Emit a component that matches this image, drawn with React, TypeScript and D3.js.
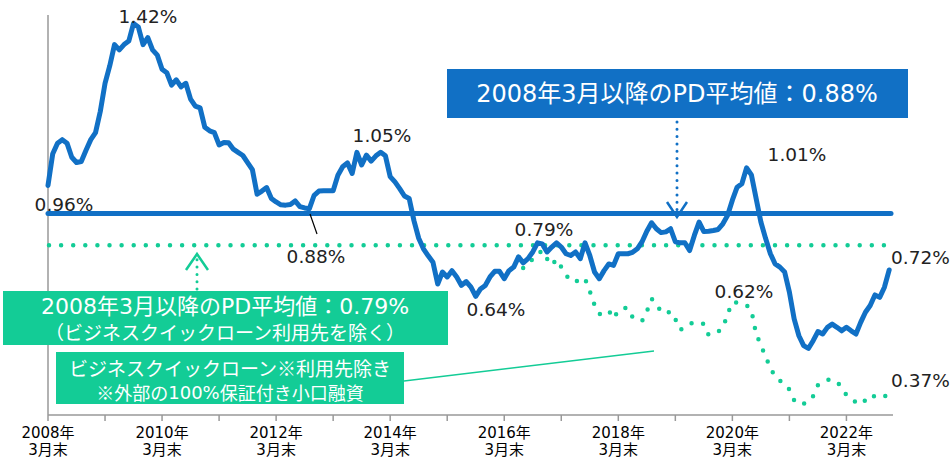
import * as d3 from "d3";

// monthly PD, index 0 = 2008年3月末
const pdAll = [
  0.96, 1.05, 1.08, 1.09, 1.08, 1.04, 1.025, 1.028, 1.06, 1.09,
  1.11, 1.17, 1.25, 1.3, 1.36, 1.345, 1.36, 1.37, 1.42, 1.41,
  1.36, 1.38, 1.345, 1.33, 1.29, 1.28, 1.245, 1.26, 1.24, 1.25,
  1.205, 1.185, 1.18, 1.125, 1.115, 1.11, 1.075, 1.082, 1.081, 1.063,
  1.054, 1.045, 1.025, 1.005, 0.935, 0.944, 0.954, 0.923, 0.913, 0.905,
  0.904, 0.906, 0.916, 0.9, 0.896, 0.894, 0.932, 0.944, 0.945, 0.945,
  0.945, 0.989, 1.013, 1.024, 0.994, 1.054, 1.018, 1.046, 1.029, 1.044,
  1.054, 1.044, 0.985, 0.97, 0.951, 0.93, 0.923, 0.86, 0.81, 0.78,
  0.76, 0.742, 0.68, 0.714, 0.7, 0.718, 0.7, 0.676, 0.687, 0.671,
  0.645, 0.666, 0.676, 0.7, 0.716, 0.716, 0.695, 0.718, 0.728, 0.757,
  0.74, 0.752, 0.771, 0.797, 0.794, 0.771, 0.785, 0.797, 0.785, 0.766,
  0.761, 0.771, 0.752, 0.797, 0.761, 0.714, 0.695, 0.718, 0.737, 0.733,
  0.766, 0.766, 0.766, 0.77, 0.78, 0.8, 0.83, 0.854, 0.837, 0.826,
  0.828, 0.837, 0.8, 0.797, 0.797, 0.775, 0.818, 0.856, 0.829, 0.83,
  0.832, 0.835, 0.851, 0.875, 0.918, 0.955, 0.965, 1.01, 0.99, 0.923,
  0.856, 0.809, 0.766, 0.737, 0.728, 0.714, 0.657, 0.581, 0.533, 0.505,
  0.497, 0.519, 0.545, 0.538, 0.557, 0.566, 0.557, 0.547, 0.557, 0.547,
  0.538, 0.571, 0.6, 0.619, 0.649, 0.642, 0.671, 0.72,
];

// ビジネスクイックローン利用先除き, from index 99 (before that it equals pdAll)
const exStart = 99;
const pdExBql = [
  0.757, 0.725, 0.74, 0.75, 0.765, 0.775, 0.752, 0.733, 0.75, 0.728,
  0.705, 0.69, 0.685, 0.697, 0.695, 0.66, 0.62, 0.595, 0.595, 0.604,
  0.582, 0.605, 0.612, 0.612, 0.586, 0.578, 0.575, 0.602, 0.638, 0.626,
  0.6, 0.597, 0.602, 0.58, 0.55, 0.556, 0.567, 0.571, 0.572, 0.566,
  0.535, 0.54, 0.545, 0.555, 0.595, 0.628, 0.627, 0.626, 0.62, 0.606,
  0.538, 0.507, 0.473, 0.443, 0.415, 0.405, 0.398, 0.38, 0.35, 0.338,
  0.34, 0.345, 0.362, 0.393, 0.4, 0.408, 0.408, 0.403, 0.385, 0.365,
  0.352, 0.345, 0.338, 0.35, 0.365, 0.36, 0.356, 0.36, 0.37,
];

const avgAll = 0.88;
const avgExBql = 0.79;

const tickYears = ["2008年", "2010年", "2012年", "2014年", "2016年", "2018年", "2020年", "2022年"];
const tickSub = "3月末";

const BLUE = "#1170C5";
const GREEN = "#13CC96";
const FONT = "'DejaVu Sans', 'Noto Sans CJK JP', sans-serif";
const JP = "'Noto Sans CJK JP', sans-serif";

export default function App() {
  const width = 952;
  const height = 460;

  const x = d3.scaleLinear().domain([0, 177.8]).range([48, 893]);
  const y = d3.scaleLinear().domain([0.308, 1.444]).range([415, 15]);

  const line = d3
    .line<number>()
    .x((_, i) => x(i))
    .y((d) => y(d));
  const lineEx = d3
    .line<number>()
    .x((_, i) => x(i + exStart))
    .y((d) => y(d));

  const majorTicks = tickYears.map((_, i) => i * 24);
  const minorTicks = d3.range(12, 178, 24);

  return (
    <svg
      width={width}
      height={height}
      style={{ position: "absolute", left: 0, top: 0, background: "#fff" }}
    >
      {/* axes */}
      <line x1={48} x2={48} y1={15} y2={415} stroke="#999" strokeWidth={1.5} />
      <line x1={48} x2={893} y1={415} y2={415} stroke="#999" strokeWidth={1.5} />
      {majorTicks.concat(minorTicks).map((m) => (
        <line key={m} x1={x(m)} x2={x(m)} y1={415} y2={421} stroke="#999" strokeWidth={1.5} />
      ))}
      {tickYears.map((t, i) => (
        <g key={t} fontFamily={FONT} fontSize={15} fill="#000" textAnchor="middle">
          <text x={x(majorTicks[i])} y={433} dominantBaseline="central">{t}</text>
          <text x={x(majorTicks[i])} y={450} dominantBaseline="central">{tickSub}</text>
        </g>
      ))}

      {/* averages */}
      <line
        x1={x(0) + 1}
        x2={885}
        y1={y(avgExBql)}
        y2={y(avgExBql)}
        stroke={GREEN}
        strokeWidth={4.5}
        strokeLinecap="round"
        strokeDasharray="0 12.1"
      />
      <line
        x1={x(0)}
        x2={891}
        y1={y(avgAll)}
        y2={y(avgAll)}
        stroke={BLUE}
        strokeWidth={5}
        strokeLinecap="round"
      />

      {/* series */}
      <path
        d={lineEx(pdExBql) ?? ""}
        fill="none"
        stroke={GREEN}
        strokeWidth={4.5}
        strokeLinecap="round"
        strokeDasharray="0 12"
      />
      <path
        d={line(pdAll) ?? ""}
        fill="none"
        stroke={BLUE}
        strokeWidth={5}
        strokeLinejoin="round"
        strokeLinecap="round"
      />

      {/* value labels */}
      <g fontFamily={FONT} fontSize={18.5} fill="#222" dominantBaseline="central">
        <text x={148} y={16} textAnchor="middle">1.42%</text>
        <text x={64} y={204} textAnchor="middle">0.96%</text>
        <text x={382} y={135} textAnchor="middle">1.05%</text>
        <text x={316} y={256} textAnchor="middle">0.88%</text>
        <text x={544} y={229} textAnchor="middle">0.79%</text>
        <text x={496} y={309} textAnchor="middle">0.64%</text>
        <text x={797} y={154} textAnchor="middle">1.01%</text>
        <text x={744} y={291} textAnchor="middle">0.62%</text>
        <text x={891} y={257}>0.72%</text>
        <text x={891} y={380}>0.37%</text>
      </g>
      <line x1={310} y1={214} x2={317} y2={234} stroke="#000" strokeWidth={1.2} />

      {/* blue callout */}
      <line x1={677} x2={677} y1={122} y2={212} stroke={BLUE} strokeWidth={3} strokeLinecap="round" strokeDasharray="0 7.3" />
      <polyline points="667,202 677,217 687,202" fill="none" stroke={BLUE} strokeWidth={2.5} />
      <rect x={447} y={69} width={461} height={49} fill={BLUE} />
      <text x={677} y={94} textAnchor="middle" dominantBaseline="central" fontFamily={FONT} fontSize={24} fill="#fff">
        2008年3月以降のPD平均値：0.88%
      </text>

      {/* green callouts */}
      <line x1={197} x2={197} y1={289} y2={258} stroke={GREEN} strokeWidth={3} strokeLinecap="round" strokeDasharray="0 7.3" />
      <polyline points="186,270 197,254 208,270" fill="none" stroke={GREEN} strokeWidth={2.5} />
      <rect x={3} y={291} width={445} height={54} fill={GREEN} />
      <text x={225} y={306} textAnchor="middle" dominantBaseline="central" fontFamily={FONT} fontSize={22} fill="#fff">
        2008年3月以降のPD平均値：0.79%
      </text>
      <text x={225} y={331} textAnchor="middle" dominantBaseline="central" fontFamily={JP} fontSize={19} fill="#fff">
        （ビジネスクイックローン利用先を除く）
      </text>

      <line x1={404} y1={381} x2={654} y2={351} stroke={GREEN} strokeWidth={1.5} />
      <rect x={56} y={352} width={348} height={52} fill={GREEN} />
      <text x={230} y={367} textAnchor="middle" dominantBaseline="central" fontFamily={JP} fontSize={19} fill="#fff">
        ビジネスクイックローン※利用先除き
      </text>
      <text x={230} y={392} textAnchor="middle" dominantBaseline="central" fontFamily={FONT} fontSize={18} fill="#fff">
        <tspan fontFamily={JP}>※外部の</tspan>100%<tspan fontFamily={JP}>保証付き小口融資</tspan>
      </text>
    </svg>
  );
}
